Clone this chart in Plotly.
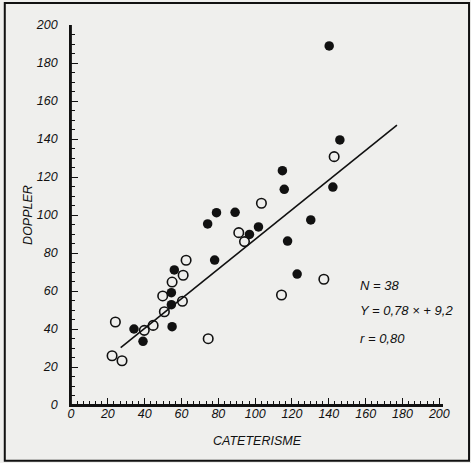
import plotly.graph_objects as go

# Filled markers (cateterisme, doppler)
filled_x = [140.2, 146.0, 114.8, 115.8, 142.2, 79.0, 89.1, 74.2, 130.2, 101.8,
            96.9, 117.6, 78.0, 122.8, 56.1, 54.5, 54.5, 54.9, 34.2, 39.1]
filled_y = [189.0, 139.5, 123.3, 113.5, 114.7, 101.2, 101.4, 95.3, 97.4, 93.7,
            89.8, 86.3, 76.3, 68.9, 71.1, 59.1, 52.8, 41.2, 40.0, 33.5]
# Open markers
open_x = [142.9, 103.4, 91.1, 94.2, 137.3, 114.3, 62.5, 60.9, 54.9, 49.8,
          60.5, 50.7, 44.6, 39.8, 24.1, 22.3, 27.7, 74.5]
open_y = [130.7, 106.2, 90.7, 86.0, 66.2, 57.9, 76.2, 68.3, 64.7, 57.4,
          54.6, 49.1, 41.9, 39.3, 43.7, 25.9, 23.3, 34.9]
# Regression line Y = 0.78x + 9.2
slope, intercept = 0.78, 9.2
line_x = [27, 177]
line_y = [slope * v + intercept for v in line_x]

stats_text = ["N = 38", "Y = 0,78 × + 9,2", "r = 0,80"]
stats_y = [63, 50, 35]

ink = "#111111"
font = dict(family="Liberation Sans, Arial, sans-serif", size=12.5, color=ink, style="italic")
stats_font = dict(font, size=13)

fig = go.Figure()
fig.add_trace(go.Scatter(x=line_x, y=line_y, mode="lines",
                         line=dict(color=ink, width=1.6), hoverinfo="skip"))
fig.add_trace(go.Scatter(x=open_x, y=open_y, mode="markers",
                         marker=dict(symbol="circle-open", size=9.5, color=ink,
                                     line=dict(width=1.6, color=ink))))
fig.add_trace(go.Scatter(x=filled_x, y=filled_y, mode="markers",
                         marker=dict(symbol="circle", size=9.5, color=ink)))

for t, yy in zip(stats_text, stats_y):
    fig.add_annotation(x=156, y=yy, text=t, showarrow=False, xanchor="left",
                       yanchor="middle", font=stats_font)

axis_common = dict(
    showgrid=False, zeroline=False, showline=True, linecolor=ink, linewidth=1.8,
    ticks="inside", ticklen=7, tickwidth=1.4, tickcolor=ink, tickfont=font,
)
fig.update_xaxes(range=[0, 202], title=dict(text="CATETERISME", font=font, standoff=16),
                 minor=dict(ticks="inside", ticklen=4, tickwidth=1.2, tickcolor=ink,
                            dtick=10 / 3, tick0=0, showgrid=False),
                 tickvals=list(range(0, 201, 20)), ticklabelstandoff=-4,
                 **axis_common)
fig.update_yaxes(range=[0, 200], title=dict(text="DOPPLER", font=font, standoff=0),
                 minor=dict(ticks="inside", ticklen=4, tickwidth=1.2, tickcolor=ink,
                            dtick=5, tick0=0, showgrid=False),
                 tickvals=list(range(0, 201, 20)), ticklabelstandoff=9,
                 **axis_common)

# explicit axis spines
fig.add_shape(type="line", xref="paper", yref="paper", x0=0, x1=0, y0=0, y1=1,
              line=dict(color=ink, width=1.8), layer="above")
fig.add_shape(type="line", xref="paper", yref="paper", x0=0, x1=1, y0=0, y1=0,
              line=dict(color=ink, width=1.8), layer="above")

# outer frame of the figure
fig.add_shape(type="rect", xref="paper", yref="paper",
              x0=-0.178, x1=1.07, y0=-0.147, y1=1.058,
              line=dict(color=ink, width=2))

fig.update_layout(
    width=471, height=463,
    margin=dict(l=71, r=28, t=25, b=58),
    paper_bgcolor="#efefed", plot_bgcolor="#efefed",
    showlegend=False,
)
fig.write_html("out.html", config={"displayModeBar": False},
               post_script="document.body.style.margin='0';document.body.style.background='#efefed';")
